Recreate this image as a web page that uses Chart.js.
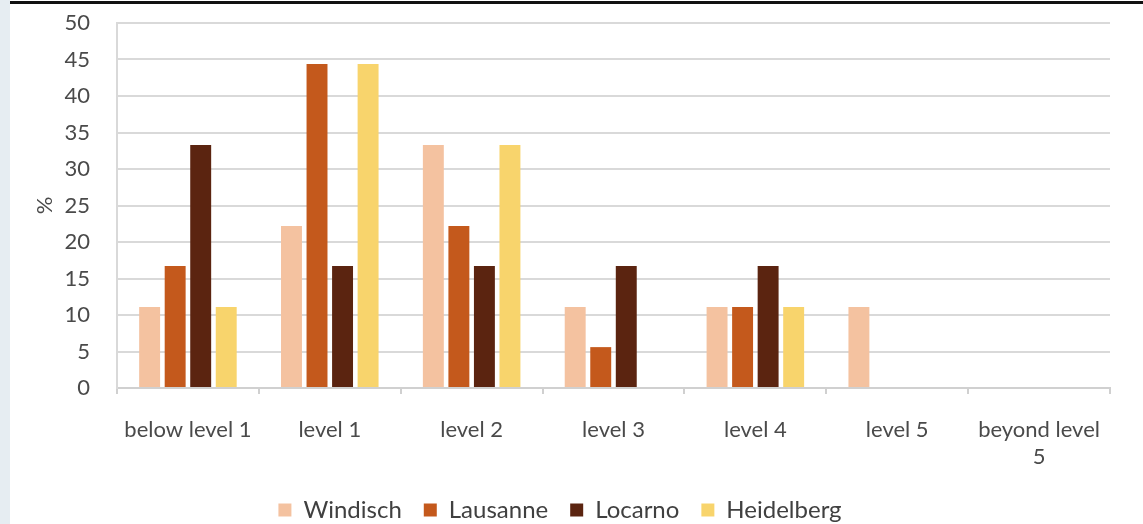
<!DOCTYPE html>
<html>
<head>
<meta charset="utf-8">
<script src="https://cdn.jsdelivr.net/npm/chart.js@4"></script>
<style>
  html, body { margin: 0; padding: 0; background: #fff; }
  #wrap { position: relative; width: 1143px; height: 524px; overflow: hidden; }
  #strip { position: absolute; left: 0; top: 0; width: 10px; height: 524px; background: #e6edf2; }
  #topline { position: absolute; left: 10px; top: 1px; width: 1133px; height: 3px; background: #111; }
  canvas { position: absolute; left: 0; top: 0; }
</style>
</head>
<body>
<div id="wrap">
  <canvas id="chart" width="1143" height="524"></canvas>
  <div id="strip"></div>
  <div id="topline"></div>
</div>
<script>
const categories = [
  "below level 1",
  "level 1",
  "level 2",
  "level 3",
  "level 4",
  "level 5",
  ["beyond level", "5"],
];
const windisch = [11.1, 22.2, 33.3, 11.1, 11.1, 11.1, 0];
const lausanne = [16.7, 44.4, 22.2, 5.6, 11.1, 0, 0];
const locarno = [33.3, 16.7, 16.7, 16.7, 16.7, 0, 0];
const heidelberg = [11.1, 44.4, 33.3, 0, 11.1, 0, 0];

const labelFont = { family: "Lato", size: 22 };

const ctx = document.getElementById("chart").getContext("2d");
const chart = new Chart(ctx, {
  type: "bar",
  data: {
    labels: categories,
    datasets: [
      { label: "Windisch", data: windisch, backgroundColor: "#f4c2a0" },
      { label: "Lausanne", data: lausanne, backgroundColor: "#c4591c" },
      { label: "Locarno", data: locarno, backgroundColor: "#5b2410" },
      { label: "Heidelberg", data: heidelberg, backgroundColor: "#f8d46c" },
    ],
  },
  options: {
    responsive: false,
    animation: false,
    categoryPercentage: 0.72,
    barPercentage: 0.82,
    // negative bottom pushes the legend's lower padding off the canvas
    layout: { padding: { left: 10, right: 33, top: 23, bottom: -8 } },
    plugins: {
      tooltip: { enabled: false },
      legend: {
        position: "bottom",
        labels: {
          font: { family: "Lato", size: 24 },
          color: "#404040",
          boxWidth: 13,
          boxHeight: 13,
          padding: 22,
        },
      },
    },
    scales: {
      x: {
        afterFit: (scale) => { scale.height = 88; },
        grid: {
          drawOnChartArea: false,
          drawTicks: true,
          tickLength: 6,
          color: "#d0d0d0",
          lineWidth: 2,
        },
        border: { color: "#d0d0d0", width: 2 },
        ticks: {
          font: labelFont,
          color: "#4a4a4a",
          maxRotation: 0,
          padding: 23,
        },
      },
      y: {
        min: 0,
        max: 50,
        afterFit: (scale) => { scale.width = 107; },
        ticks: {
          stepSize: 5,
          font: labelFont,
          color: "#4a4a4a",
          padding: 0,
        },
        grid: {
          color: "#d9d9d9",
          lineWidth: 2,
          drawTicks: true,
          tickLength: 27,
          tickColor: "rgba(0,0,0,0)",
        },
        border: { color: "#d9d9d9", width: 2 },
        title: {
          display: true,
          text: "%",
          font: labelFont,
          color: "#4a4a4a",
          padding: { top: 22, bottom: 0 },
        },
      },
    },
  },
});
</script>
</body>
</html>
